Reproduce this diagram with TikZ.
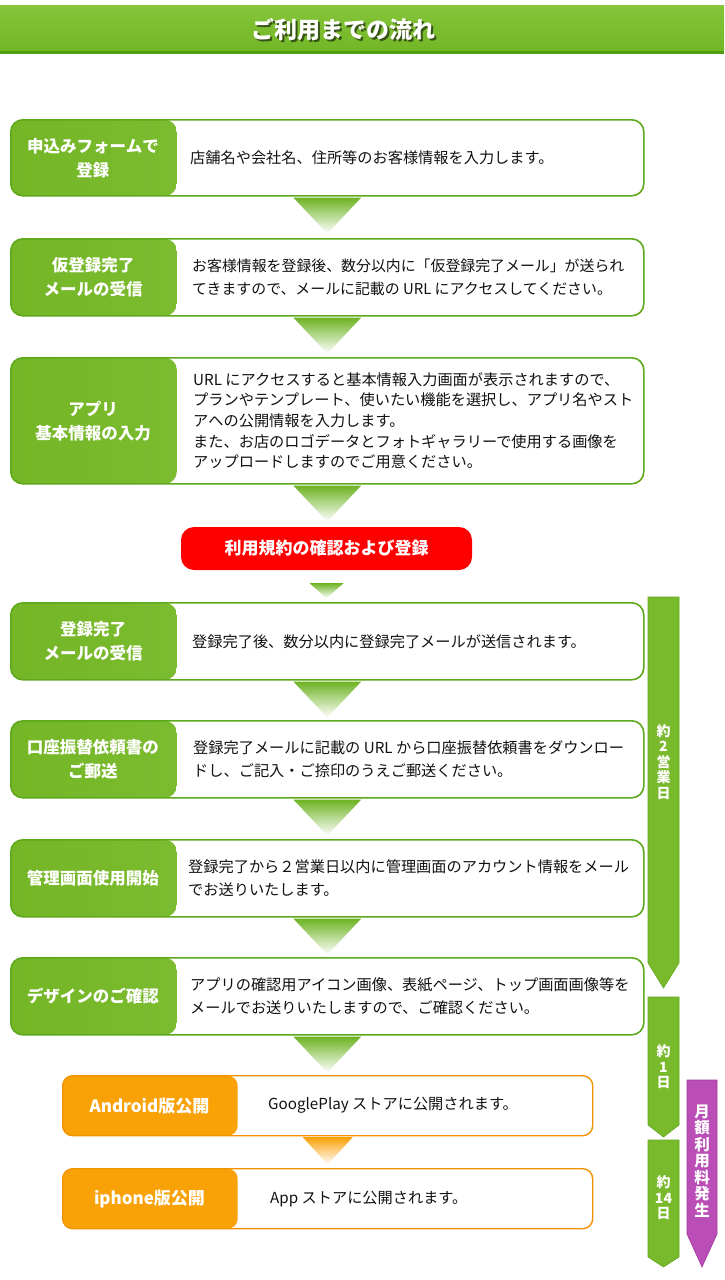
\documentclass[tikz,border=0pt]{standalone}
\usepackage{fontspec}
\setmainfont{Noto Sans CJK JP}
\usetikzlibrary{calc}
\definecolor{hdrtop}{HTML}{86C53A}
\definecolor{hdrbot}{HTML}{72B626}
\definecolor{hdrline}{HTML}{4F9C10}
\definecolor{gfill}{HTML}{74B626}
\definecolor{gfilllight}{HTML}{82C038}
\definecolor{gborder}{HTML}{5EA81C}
\definecolor{agreen}{HTML}{6DB322}
\definecolor{ofill}{HTML}{F9A208}
\definecolor{oborder}{HTML}{F39200}
\definecolor{vgreen}{HTML}{79B92C}
\definecolor{vgreenb}{HTML}{62A81E}
\definecolor{vpurple}{HTML}{BA4DB6}
\definecolor{vpurpleb}{HTML}{A23A9E}
\definecolor{txt}{HTML}{111111}
\newcommand\gtri[1]{\shade[top color=agreen, bottom color=white] ([xshift=-34pt,yshift=-0.9pt]#1.south) -- ([xshift=34pt,yshift=-0.9pt]#1.south) -- ([yshift=-37pt]#1.south) -- cycle;}
\begin{document}
\begin{tikzpicture}[x=1pt,y=-1pt,
  stepbox/.style={draw=gborder, line width=1.6pt, fill=white, rounded corners=12pt,
    minimum width=633pt, anchor=north west, inner sep=0pt,
    path picture={\shade[left color=gfill, right color=gfill, middle color=gfilllight]
      (path picture bounding box.north west) rectangle ([xshift=166pt]path picture bounding box.south west);}},
  obox/.style={draw=oborder, line width=1.4pt, fill=white, rounded corners=10pt,
    minimum width=530pt, minimum height=60pt, anchor=north west, inner sep=0pt,
    path picture={\fill[ofill]
      (path picture bounding box.north west) rectangle ([xshift=175pt]path picture bounding box.south west);}},
  steplabel/.style={text=white, align=center, inner sep=0pt, font=\fontsize{16.5}{24}\selectfont\bfseries},
  olabel/.style={text=white, align=center, inner sep=0pt, font=\fontsize{17}{24}\selectfont\bfseries},
  stepdesc/.style={text=txt, align=left, anchor=west, inner sep=0pt, font=\fontsize{15.2}{22.5}\selectfont},
  redbtn/.style={fill=red, rounded corners=13pt, minimum width=291pt, minimum height=43pt,
    text=white, inner sep=0pt, font=\fontsize{17}{20}\selectfont\bfseries},
  vtext/.style={text=white, align=center, inner sep=0pt, font=\fontsize{14}{15.5}\selectfont\bfseries},
  ptext/.style={text=white, align=center, inner sep=0pt, font=\fontsize{15.5}{16.5}\selectfont\bfseries}
]
\useasboundingbox (0,0) rectangle (724,1280);
\fill[white] (0,0) rectangle (724,1280);

% header
\shade[top color=hdrtop, bottom color=hdrbot] (0,5) rectangle (724,51);
\fill[hdrline] (0,51) rectangle (724,54);
\node[text=black, opacity=0.55, font=\fontsize{23}{23}\selectfont\bfseries] (titleshadow) at (345,32) {ご利用までの流れ};
\node[text=white, font=\fontsize{23}{23}\selectfont\bfseries] (title) at (343,30) {ご利用までの流れ};

% step 1
\node[stepbox, minimum height=76pt] (b1) at (10,119) {};
\node[steplabel] (l1) at ([xshift=83pt]b1.west) {申込みフォームで\\登録};
\node[stepdesc] (d1) at ([xshift=180pt]b1.west) {店舗名や会社名、住所等のお客様情報を入力します。};
\gtri{b1}

% step 2
\node[stepbox, minimum height=77pt] (b2) at (10,238) {};
\node[steplabel] (l2) at ([xshift=83pt]b2.west) {仮登録完了\\メールの受信};
\node[stepdesc, font=\fontsize{14.9}{22.5}\selectfont] (d2) at ([xshift=182pt]b2.west) {お客様情報を登録後、数分以内に「仮登録完了メール」が送られ\\てきますので、メールに記載の URL にアクセスしてください。};
\gtri{b2}

% step 3
\node[stepbox, minimum height=126pt] (b3) at (10,357) {};
\node[steplabel] (l3) at ([xshift=83pt]b3.west) {アプリ\\基本情報の入力};
\node[stepdesc, font=\fontsize{15.2}{20.5}\selectfont] (d3) at ([xshift=183pt]b3.west) {URL にアクセスすると基本情報入力画面が表示されますので、\\プランやテンプレート、使いたい機能を選択し、アプリ名やスト\\アへの公開情報を入力します。\\[0.5pt]また、お店のロゴデータとフォトギャラリーで使用する画像を\\アップロードしますのでご用意ください。};
\gtri{b3}

% terms
\node[redbtn] (terms) at (326.5,548.5) {利用規約の確認および登録};
\shade[top color=agreen, bottom color=white] ([xshift=-17pt,yshift=-13pt]terms.south) -- ([xshift=17pt,yshift=-13pt]terms.south) -- ([yshift=-28pt]terms.south) -- cycle;

% step 4
\node[stepbox, minimum height=77pt] (b4) at (10,602) {};
\node[steplabel] (l4) at ([xshift=83pt]b4.west) {登録完了\\メールの受信};
\node[stepdesc] (d4) at ([xshift=182pt]b4.west) {登録完了後、数分以内に登録完了メールが送信されます。};
\gtri{b4}

% step 5
\node[stepbox, minimum height=77pt] (b5) at (10,720) {};
\node[steplabel] (l5) at ([xshift=83pt]b5.west) {口座振替依頼書の\\ご郵送};
\node[stepdesc] (d5) at ([xshift=183pt]b5.west) {登録完了メールに記載の URL から口座振替依頼書をダウンロー\\ドし、ご記入・ご捺印のうえご郵送ください。};
\gtri{b5}

% step 6
\node[stepbox, minimum height=77pt] (b6) at (10,839) {};
\node[steplabel] (l6) at ([xshift=83pt]b6.west) {管理画面使用開始};
\node[stepdesc] (d6) at ([xshift=178pt]b6.west) {登録完了から２営業日以内に管理画面のアカウント情報をメール\\でお送りいたします。};
\gtri{b6}

% step 7
\node[stepbox, minimum height=77pt] (b7) at (10,957) {};
\node[steplabel] (l7) at ([xshift=83pt]b7.west) {デザインのご確認};
\node[stepdesc] (d7) at ([xshift=180pt]b7.west) {アプリの確認用アイコン画像、表紙ページ、トップ画面画像等を\\メールでお送りいたしますので、ご確認ください。};
\gtri{b7}

% android
\node[obox] (o1) at (62,1075) {};
\node[olabel] (ol1) at ([xshift=87.5pt]o1.west) {Android版公開};
\node[stepdesc] (od1) at ([xshift=206pt]o1.west) {GooglePlay ストアに公開されます。};
\shade[top color=ofill, bottom color=white] ([xshift=-25pt,yshift=-0.8pt]o1.south) -- ([xshift=25pt,yshift=-0.8pt]o1.south) -- ([yshift=-28pt]o1.south) -- cycle;

% iphone
\node[obox] (o2) at (62,1168) {};
\node[olabel] (ol2) at ([xshift=87.5pt]o2.west) {iphone版公開};
\node[stepdesc] (od2) at ([xshift=208pt]o2.west) {App ストアに公開されます。};

% vertical arrows
\filldraw[fill=vgreen, draw=vgreenb, line width=0.6pt] (648,597) -- (679,597) -- (679,963) -- (663.5,988) -- (648,963) -- cycle;
\node[vtext] (v1) at (663.5,762) {約\\2\\営\\業\\日};
\filldraw[fill=vgreen, draw=vgreenb, line width=0.6pt] (648,997) -- (679,997) -- (679,1125) -- (663.5,1137) -- (648,1125) -- cycle;
\node[vtext] (v2) at (663.5,1067) {約\\1\\日};
\filldraw[fill=vgreen, draw=vgreenb, line width=0.6pt] (648,1140) -- (679,1140) -- (679,1257) -- (663.5,1267) -- (648,1257) -- cycle;
\node[vtext] (v3) at (663.5,1198) {約\\14\\日};
\filldraw[fill=vpurple, draw=vpurpleb, line width=0.6pt] (687,1080) -- (717,1080) -- (717,1234) -- (702,1267) -- (687,1234) -- cycle;
\node[ptext] (v4) at (702,1161) {月\\額\\利\\用\\料\\発\\生};
\end{tikzpicture}
\end{document}
